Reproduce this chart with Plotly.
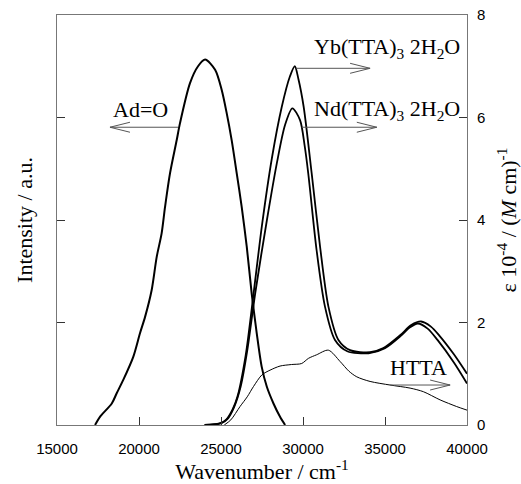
import plotly.graph_objects as go

# ---------------- data ----------------
ad_wn = [17320, 17620, 18340, 18640, 19040, 19650, 20060, 20370, 20770, 21080, 21380, 21590,
         21890, 22300, 22500, 23110, 23600, 24030, 24640, 25040, 25350, 25650, 25960, 26260,
         26570, 26870, 27180, 27480, 27790, 28200, 28600, 28910]
ad_val = [0.0, 0.16, 0.42, 0.62, 0.88, 1.33, 1.79, 2.11, 2.63, 3.28, 3.74, 4.26,
          4.91, 5.56, 5.89, 6.67, 7.0, 7.13, 6.93, 6.54, 6.08, 5.56, 4.91, 4.26,
          3.48, 2.57, 1.79, 1.14, 0.75, 0.42, 0.16, 0.0]

yb_wn = [24000, 24900, 25300, 25700, 26000, 26500, 27000, 27500, 28100, 28700, 29200, 29500,
         29720, 30040, 30530, 31040, 31550, 32160, 32870, 34090, 34900, 35920, 36600, 37200,
         37800, 38300, 39200, 40000]
yb_val = [0.0, 0.03, 0.1, 0.3, 0.55, 1.35, 2.6, 3.9, 5.2, 6.2, 6.8, 7.0,
          6.75, 6.21, 4.91, 3.48, 2.31, 1.66, 1.46, 1.42, 1.5, 1.75, 1.95, 2.02,
          1.92, 1.75, 1.38, 1.0]

nd_wn = [24000, 25000, 25400, 25800, 26200, 26600, 27100, 27800, 28400, 28900, 29350, 29820,
         30100, 30320, 30830, 31340, 31950, 32700, 34000, 35000, 36000, 36500, 37000, 37600,
         38200, 39200, 40000]
nd_val = [0.0, 0.03, 0.12, 0.35, 0.75, 1.45, 2.6, 4.0, 5.1, 5.85, 6.18, 5.95,
          5.45, 4.91, 3.41, 2.31, 1.66, 1.44, 1.4, 1.5, 1.75, 1.9, 1.98, 1.88,
          1.66, 1.22, 0.81]

htta_wn = [25200, 25600, 26160, 26600, 26980, 27500, 27990, 28600, 29300, 29920, 30330, 30830,
           31550, 32260, 32800, 33280, 34090, 35310, 36530, 37340, 38360, 39370, 40000]
htta_val = [0.0, 0.1, 0.36, 0.55, 0.75, 0.98, 1.07, 1.15, 1.18, 1.2, 1.3, 1.37,
            1.46, 1.24, 1.05, 0.94, 0.85, 0.78, 0.72, 0.65, 0.49, 0.36, 0.29]

x_ticks = [15000, 20000, 25000, 30000, 35000, 40000]
y_ticks = [0, 2, 4, 6, 8]

# labels with arrows: (text, text_x, text_y, tail_x, head_x, arrow_y)
labels = [
    ("Ad=O", 20100, 6.15, 22380, 18230, 5.81),
    ("Yb(TTA)<sub>3</sub> 2H<sub>2</sub>O", 35150, 7.36, 29600, 34090, 6.96),
    ("Nd(TTA)<sub>3</sub> 2H<sub>2</sub>O", 35150, 6.15, 29920, 34500, 5.81),
    ("HTTA", 37050, 1.13, 35310, 38970, 0.78),
]

# ---------------- figure ----------------
X0, X1, Y0, Y1 = 15000, 40000, 0, 8
L, R, T, B = 57, 54, 15, 59
W, H = 521, 484
pw, ph = W - L - R, H - T - B
dx_per_px = (X1 - X0) / pw
dy_per_px = (Y1 - Y0) / ph

fig = go.Figure()
fig.add_trace(go.Scatter(x=ad_wn, y=ad_val, mode="lines", yaxis="y",
                         line=dict(color="black", width=2, shape="spline", smoothing=0.8)))
fig.add_trace(go.Scatter(x=yb_wn, y=yb_val, mode="lines", yaxis="y2",
                         line=dict(color="black", width=1.8, shape="spline", smoothing=0.8)))
fig.add_trace(go.Scatter(x=nd_wn, y=nd_val, mode="lines", yaxis="y2",
                         line=dict(color="black", width=1.8, shape="spline", smoothing=0.8)))
fig.add_trace(go.Scatter(x=htta_wn, y=htta_val, mode="lines", yaxis="y2",
                         line=dict(color="black", width=1, shape="spline", smoothing=0.8)))

shapes = []
annots = []
serif = "Liberation Serif, Times New Roman, serif"
for text, tx, ty, x_tail, x_head, ay in labels:
    arrow_col = "#555555"
    shapes.append(dict(type="line", xref="x", yref="y", x0=x_tail, x1=x_head, y0=ay, y1=ay,
                       line=dict(color=arrow_col, width=1)))
    direction = 1 if x_head > x_tail else -1
    back = 20 * dx_per_px * direction
    wing = 5 * dy_per_px
    for s in (1, -1):
        shapes.append(dict(type="line", xref="x", yref="y", x0=x_head, y0=ay,
                           x1=x_head - back, y1=ay + s * wing,
                           line=dict(color=arrow_col, width=1)))
    annots.append(dict(x=tx, y=ty, xref="x", yref="y", text=text, showarrow=False,
                       font=dict(family=serif, size=22, color="black")))

axis_line = "#777777"
fig.update_layout(
    width=W, height=H,
    margin=dict(l=L, r=R, t=T, b=B, autoexpand=False),
    paper_bgcolor="white", plot_bgcolor="white",
    showlegend=False,
    shapes=shapes,
    annotations=annots,
    xaxis=dict(range=[X0, X1], tickvals=x_ticks, ticktext=[str(v) for v in x_ticks],
               ticks="inside", ticklen=8, tickcolor="#333333", tickwidth=1,
               showline=True, linecolor=axis_line, linewidth=1, mirror=True,
               showgrid=False, zeroline=False, automargin=False, ticklabelstandoff=10,
               tickfont=dict(family="Liberation Sans, Arial, sans-serif", size=15, color="black"),
               title=dict(text="Wavenumber / cm<sup>-1</sup>", standoff=14,
                          font=dict(family=serif, size=22, color="black"))),
    yaxis=dict(range=[Y0, Y1], tickvals=[2, 4, 6], showticklabels=False,
               ticks="inside", ticklen=8, tickcolor="#333333",
               showline=True, linecolor=axis_line, linewidth=1,
               showgrid=False, zeroline=False, automargin=False,
               title=dict(text="Intensity / a.u.", standoff=17,
                          font=dict(family=serif, size=22, color="black"))),
    yaxis2=dict(range=[Y0, Y1], tickvals=y_ticks, overlaying="y", side="right",
                ticks="inside", ticklen=8, tickcolor="#333333",
                showline=True, linecolor=axis_line, linewidth=1,
                showgrid=False, zeroline=False, automargin=False, ticklabelstandoff=6,
                tickfont=dict(family="Liberation Sans, Arial, sans-serif", size=15, color="black"),
                title=dict(text="ε 10<sup>-4</sup> / (<i>M</i> cm)<sup>-1</sup>", standoff=16,
                           font=dict(family=serif, size=22, color="black"))),
)

fig.write_html("out.html", config={"displayModeBar": False},
               post_script="document.body.style.margin='0';document.body.style.overflow='hidden';")
